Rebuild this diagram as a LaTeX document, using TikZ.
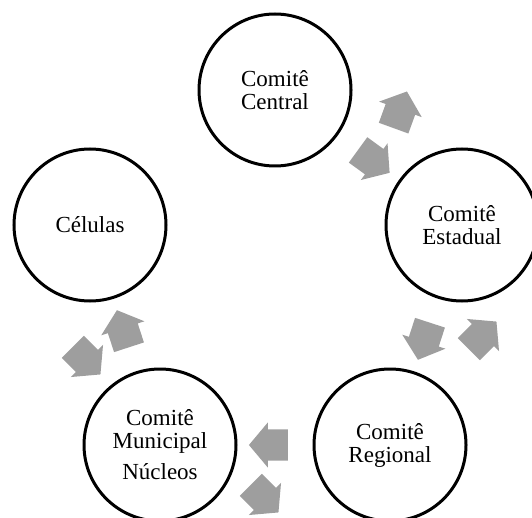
\documentclass[tikz,border=0pt]{standalone}
\usepackage{fontspec}
\setmainfont{Liberation Serif}
\usetikzlibrary{shapes.arrows,calc}
\definecolor{arrowgray}{RGB}{158,158,158}

\begin{document}
\begin{tikzpicture}[x=1pt,y=1pt,
    organ/.style={circle, draw, line width=3pt, minimum size=152pt, inner sep=0pt,
        align=center, font=\fontsize{23}{23}\selectfont},
    flow/.style={single arrow, fill=arrowgray, inner xsep=0pt, inner ysep=15.5pt,
        minimum height=39pt, single arrow head extend=7pt, single arrow tip angle=100}]
    \clip (0,0) rectangle (532,517);

    \node[organ] (central) at (275,427) {Comitê\\Central};
    \node[organ] (estadual) at (462,292) {Comitê\\Estadual};
    \node[organ] (regional) at (390,72) {Comitê\\Regional};
    \node[organ] (municipal) at (160,72) {Comitê\\Municipal\\[8pt]Núcleos};
    \node[organ] (celulas) at (90,292) {Células};

    % arrows on the line between two circles
    \node[flow, rotate=-36] (cw1) at ($(central)!0.5!(estadual)$) {};
    \node[flow, rotate=-108] (cw2) at ($(estadual)!0.5!(regional)$) {};
    \node[flow, rotate=180] (cw3) at ($(regional)!0.5!(municipal)$) {};
    \node[flow, rotate=108] (cw4) at ($(municipal)!0.5!(celulas)$) {};

    % the other arrow of each pair
    \node[flow, rotate=70] (ccw1) at (398,401) {};
    \node[flow, rotate=45] (ccw2) at (478,177) {};
    \node[flow, rotate=-45] (ccw3) at (260,23) {};
    \node[flow, rotate=-45] (ccw4) at (82,161) {};

\end{tikzpicture}
\end{document}
